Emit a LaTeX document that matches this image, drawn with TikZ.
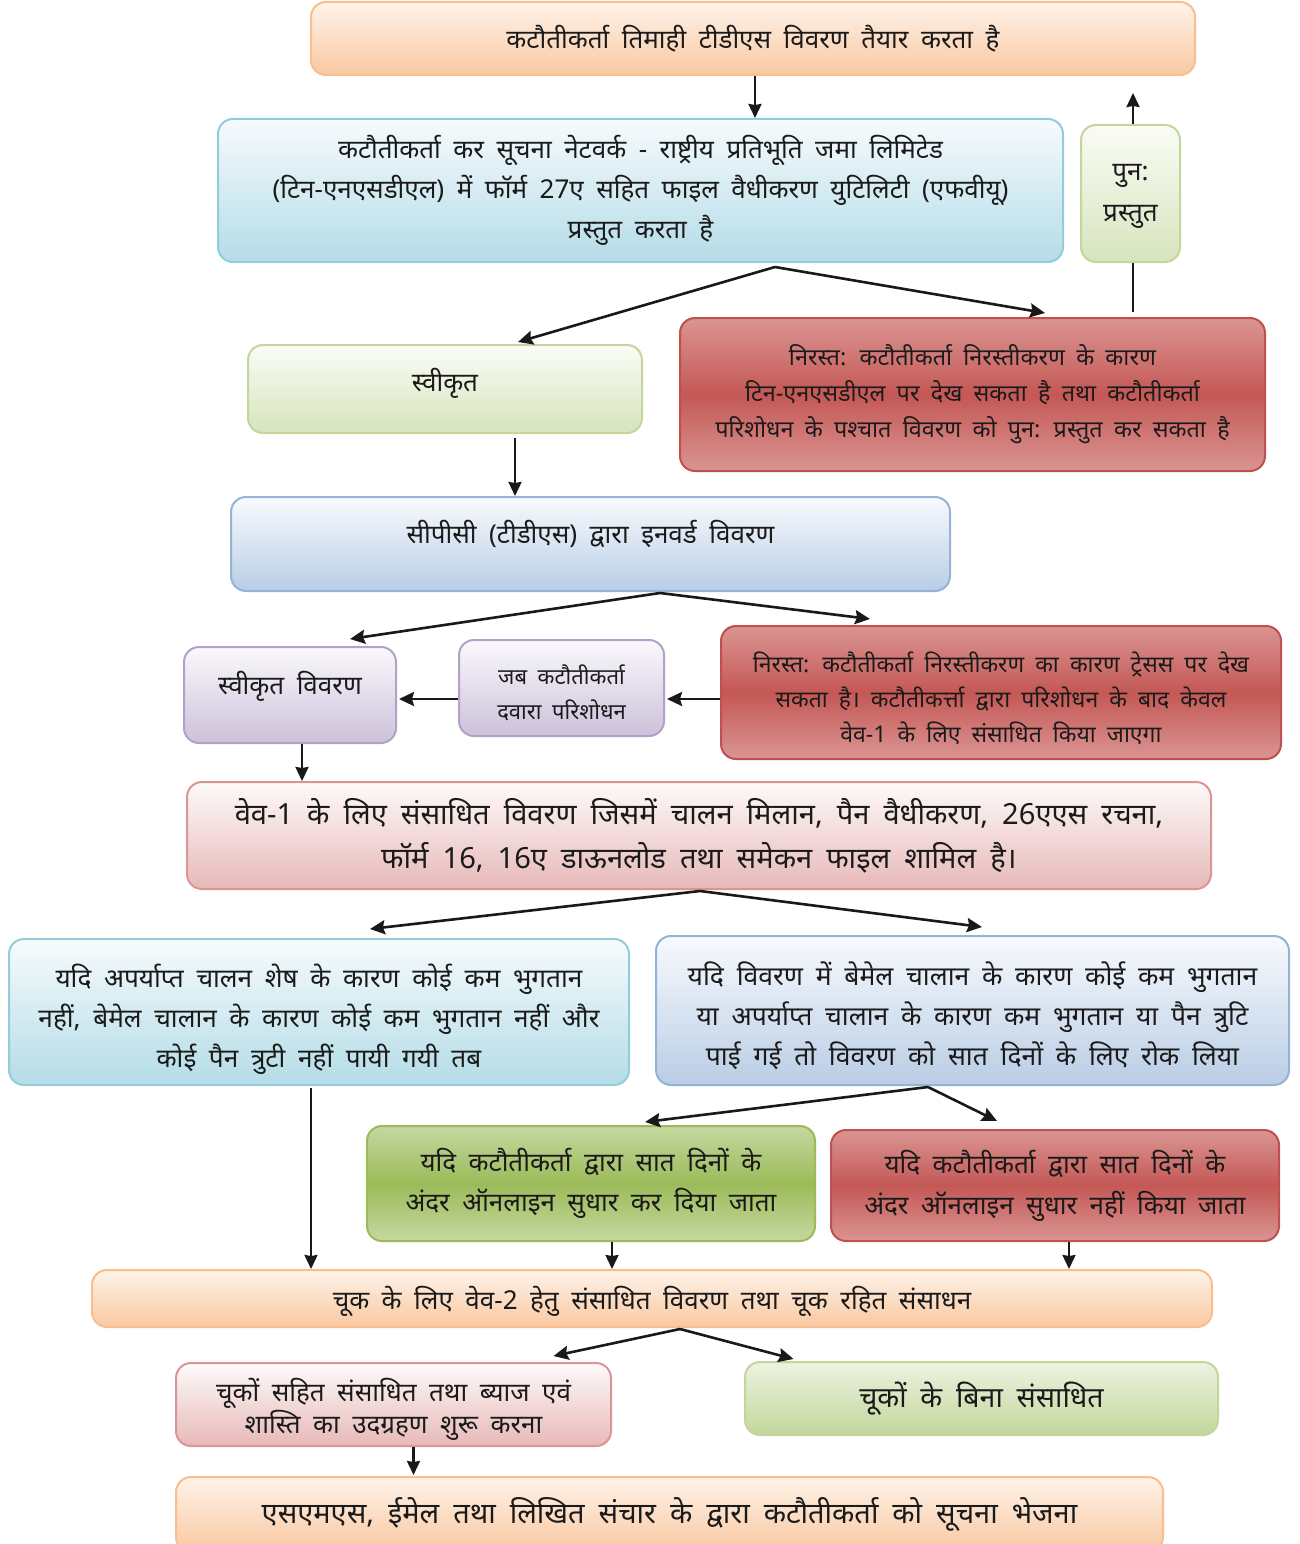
\documentclass[tikz,border=0pt]{standalone}
\usepackage{fontspec}
\setmainfont[Script=Devanagari,WordSpace=1.85]{Noto Sans}
\usetikzlibrary{arrows.meta,calc}
\definecolor{txt}{HTML}{1A1A1A}
\definecolor{orTop}{HTML}{FEF3EA}
\definecolor{orBot}{HTML}{F9C8A0}
\definecolor{orLine}{HTML}{F9BE8C}
\definecolor{cyTop}{HTML}{F6FBFD}
\definecolor{cyBot}{HTML}{B4DCE7}
\definecolor{cyLine}{HTML}{93CDDD}
\definecolor{blTop}{HTML}{F8FAFD}
\definecolor{blBot}{HTML}{B9CDE5}
\definecolor{blLine}{HTML}{95B3D7}
\definecolor{grTop}{HTML}{FAFCF6}
\definecolor{grBot}{HTML}{D7E4BD}
\definecolor{grLine}{HTML}{C3D69B}
\definecolor{puTop}{HTML}{FAF9FC}
\definecolor{puBot}{HTML}{CCC1DA}
\definecolor{puLine}{HTML}{B3A2C7}
\definecolor{piTop}{HTML}{FEFAFA}
\definecolor{piBot}{HTML}{E6B9B8}
\definecolor{piLine}{HTML}{D99694}
\definecolor{reEdge}{HTML}{DA9593}
\definecolor{reMid}{HTML}{C45855}
\definecolor{reLine}{HTML}{C0504D}
\definecolor{dgEdge}{HTML}{C5D89F}
\definecolor{dgMid}{HTML}{9BBB59}
\definecolor{dgLine}{HTML}{9BBB59}
\tikzset{
  box/.style={draw, rounded corners=15pt, line width=2pt, align=center, inner sep=0pt, text=txt},
  txtnode/.style={align=center, inner sep=0pt, text=txt},
  orbox/.style={box, draw=orLine, top color=orTop, bottom color=orBot},
  cybox/.style={box, draw=cyLine, top color=cyTop, bottom color=cyBot},
  blbox/.style={box, draw=blLine, top color=blTop, bottom color=blBot},
  grbox/.style={box, draw=grLine, top color=grTop, bottom color=grBot},
  pubox/.style={box, draw=puLine, top color=puTop, bottom color=puBot},
  pibox/.style={box, draw=piLine, top color=piTop, bottom color=piBot},
  rebox/.style={box, draw=reLine, top color=reEdge, bottom color=reEdge, middle color=reMid},
  dgbox/.style={box, draw=dgLine, top color=dgEdge, bottom color=dgEdge, middle color=dgMid},
  fsz/.style 2 args={font=\fontsize{#1}{#2}\selectfont},
  wh/.style 2 args={minimum width=#1pt, minimum height=#2pt},
  arr/.style={draw=black!90, line width=2.6pt, -{Stealth[length=15pt,width=14pt,inset=2pt]}},
  varr/.style={draw=black!90, line width=2.4pt, -{Stealth[length=14pt,width=13pt,inset=1pt]}},
  plain/.style={draw=black!90, line width=2.2pt}
}
\begin{document}
\begin{tikzpicture}[x=1pt,y=-1pt]
\useasboundingbox (0,0) rectangle (1300,1544);
% boxes
\node[orbox, wh={884}{73}, fsz={26}{40}] (top) at (753,38.5) {कटौतीकर्ता तिमाही टीडीएस विवरण तैयार करता है};
\node[cybox, wh={845}{143}, fsz={26}{40}] (tin) at (640.5,190.5) {कटौतीकर्ता कर सूचना नेटवर्क - राष्ट्रीय प्रतिभूति जमा लिमिटेड\\(टिन-एनएसडीएल) में फॉर्म 27ए सहित फाइल वैधीकरण युटिलिटी (एफवीयू)\\प्रस्तुत करता है};
\node[grbox, wh={99}{137}] (resub) at (1130.5,193.5) {};
\node[txtnode, fsz={26}{41}] (resubT) at ($(resub)+(0,3)$) {पुन:\\प्रस्तुत};
\node[grbox, wh={394}{88}] (acc) at (445,389) {};
\node[txtnode, fsz={26}{40}] (accT) at ($(acc)+(0,-6)$) {स्वीकृत};
\node[rebox, wh={585}{153}, fsz={23.4}{36}] (rej1) at (972.5,394.5) {निरस्त: कटौतीकर्ता निरस्तीकरण के कारण\\टिन-एनएसडीएल पर देख सकता है तथा कटौतीकर्ता\\परिशोधन के पश्चात विवरण को पुन: प्रस्तुत कर सकता है};
\node[blbox, wh={719}{94}] (cpc) at (590.5,544) {};
\node[txtnode, fsz={26}{40}] (cpcT) at ($(cpc)+(0,-10)$) {सीपीसी (टीडीएस) द्वारा इनवर्ड विवरण};
\node[pubox, wh={212}{96}] (accst) at (290,695) {};
\node[txtnode, fsz={26}{40}] (accstT) at ($(accst)+(0,-9)$) {स्वीकृत विवरण};
\node[pubox, wh={205}{96}] (rect) at (561.5,688) {};
\node[txtnode, fsz={22}{35}] (rectT) at ($(rect)+(0,5)$) {जब कटौतीकर्ता\\दवारा परिशोधन};
\node[rebox, wh={560}{133}] (rej2) at (1001,692.5) {};
\node[txtnode, fsz={23}{35}] (rej2T) at ($(rej2)+(0,6)$) {निरस्त: कटौतीकर्ता निरस्तीकरण का कारण ट्रेसस पर देख\\सकता है। कटौतीकर्त्ता द्वारा परिशोधन के बाद केवल\\वेव-1 के लिए संसाधित किया जाएगा};
\node[pibox, wh={1024}{107}, fsz={29.1}{44}] (wave1) at (699,835.5) {वेव-1 के लिए संसाधित विवरण जिसमें चालन मिलान, पैन वैधीकरण, 26एएस रचना,\\फॉर्म 16, 16ए डाऊनलोड तथा समेकन फाइल शामिल है।};
\node[cybox, wh={620}{146}] (left) at (319,1012) {};
\node[txtnode, fsz={26.2}{40}] (leftT) at ($(left)+(0,7)$) {यदि अपर्याप्त चालन शेष के कारण कोई कम भुगतान\\नहीं, बेमेल चालान के कारण कोई कम भुगतान नहीं और\\कोई पैन त्रुटी नहीं पायी गयी तब};
\node[blbox, wh={633}{149}] (right) at (972.5,1010.5) {};
\node[txtnode, fsz={26.5}{40}] (rightT) at ($(right)+(0,5)$) {यदि विवरण में बेमेल चालान के कारण कोई कम भुगतान\\या अपर्याप्त चालान के कारण कम भुगतान या पैन त्रुटि\\पाई गई तो विवरण को सात दिनों के लिए रोक लिया};
\node[dgbox, wh={448}{115}, fsz={26}{40}] (gdark) at (591,1183.5) {यदि कटौतीकर्ता द्वारा सात दिनों के\\अंदर ऑनलाइन सुधार कर दिया जाता};
\node[rebox, wh={448}{111}, fsz={26}{41}] (rej3) at (1055,1185.5) {यदि कटौतीकर्ता द्वारा सात दिनों के\\अंदर ऑनलाइन सुधार नहीं किया जाता};
\node[orbox, wh={1120}{57}] (wave2) at (652,1298.5) {};
\node[txtnode, fsz={26}{40}] (wave2T) at ($(wave2)+(0,2.5)$) {चूक के लिए वेव-2 हेतु संसाधित विवरण तथा चूक रहित संसाधन};
\node[pibox, wh={435}{83}] (pen) at (393.5,1404.5) {};
\node[txtnode, fsz={26}{32}] (penT) at ($(pen)+(0,5)$) {चूकों सहित संसाधित तथा ब्याज एवं\\शास्ति का उदग्रहण शुरू करना};
\node[grbox, wh={473}{73}, fsz={28.5}{40}, top color=grBot!45, bottom color=grLine] (nopen) at (981.5,1398.5) {चूकों के बिना संसाधित};
\node[orbox, wh={987}{75}, fsz={29}{40}] (sms) at (669.5,1514.5) {एसएमएस, ईमेल तथा लिखित संचार के द्वारा कटौतीकर्ता को सूचना भेजना};
% junction / free-end coordinates
\coordinate (up) at (1133,93);
\coordinate (s1) at (775,267);
\coordinate (s2) at (660,593);
\coordinate (s3) at (700,891);
\coordinate (s4) at (928,1087);
\coordinate (s5) at (680,1329);
% connectors
\draw[varr] ([xshift=2pt]top.south) -- ([xshift=2pt]top.south |- tin.north);
\draw[varr] ([xshift=2.5pt]resub.north) -- (up);
\draw[plain] ([yshift=5pt]rej1.north -| up) -- (resub.south -| up);
\draw[arr] (s1) -- ([xshift=73pt,yshift=2pt]acc.north);
\draw[arr] (s1) -- ([xshift=72.5pt,yshift=4pt]rej1.north);
\draw[varr] ([xshift=70pt,yshift=-4pt]acc.south) -- ([xshift=70pt]acc.south |- cpc.north);
\draw[arr] (s2) -- ([xshift=60pt,yshift=7pt]accst.north);
\draw[arr] (s2) -- ([xshift=-131pt,yshift=6pt]rej2.north);
\draw[arr] ([yshift=-6.5pt]rej2.west) -- ([yshift=-11pt,xshift=2pt]rect.east);
\draw[arr] ([yshift=-11pt]rect.west) -- ([yshift=-4pt,xshift=2pt]accst.east);
\draw[varr] ([xshift=12pt]accst.south) -- ([xshift=12pt]accst.south |- wave1.north);
\draw[arr] (s3) -- ([xshift=51pt,yshift=9pt]left.north);
\draw[arr] (s3) -- ([xshift=9.5pt,yshift=8pt]right.north);
\draw[arr] (s4) -- ([xshift=54pt,yshift=3pt]gdark.north);
\draw[arr] (s4) -- ([xshift=-58pt,yshift=8pt]rej3.north);
\draw[varr] ([xshift=-8pt,yshift=-2pt]left.south) -- ([xshift=-8pt]left.south |- wave2.north);
\draw[varr] ([xshift=21pt]gdark.south) -- ([xshift=21pt]gdark.south |- wave2.north);
\draw[varr] ([xshift=14pt]rej3.south) -- ([xshift=14pt]rej3.south |- wave2.north);
\draw[arr] (s5) -- ([xshift=160pt,yshift=6pt]pen.north);
\draw[arr] (s5) -- ([xshift=-188pt,yshift=2pt]nopen.north);
\draw[varr] ([xshift=20pt]pen.south) -- ([xshift=20pt,yshift=1pt]pen.south |- sms.north);
\end{tikzpicture}
\end{document}
